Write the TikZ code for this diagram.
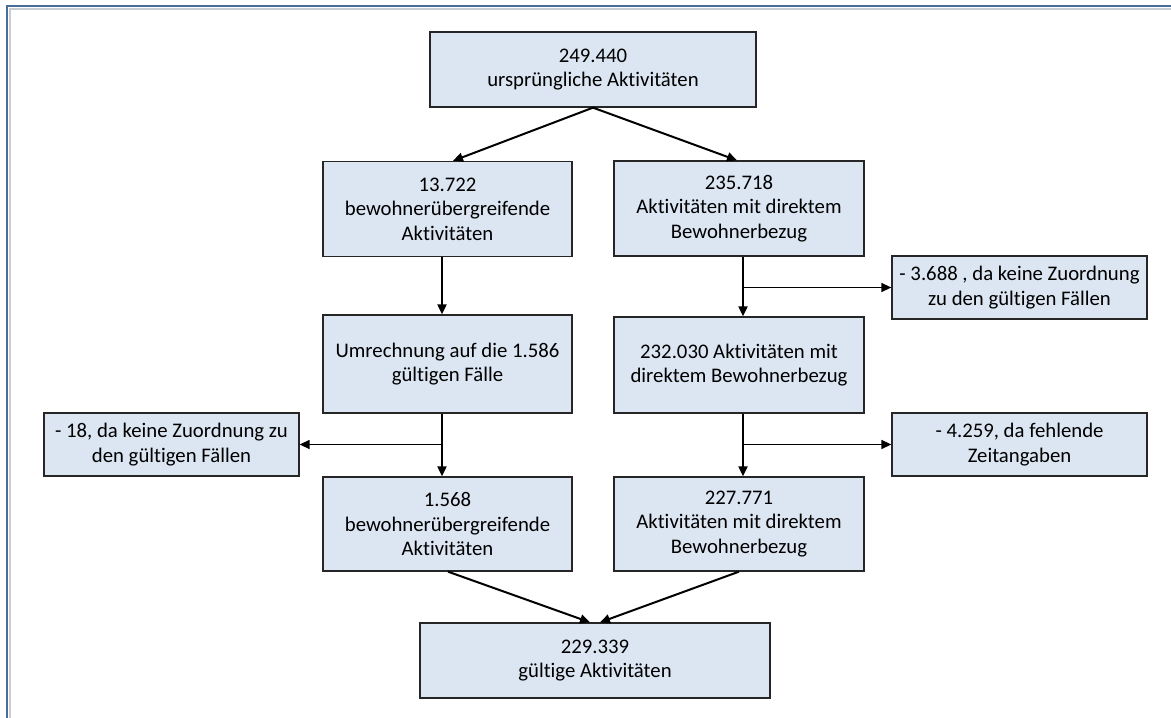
\documentclass[tikz,border=0pt]{standalone}
\usepackage{fontspec}
\setmainfont[Ligatures={NoCommon},RawFeature={-liga;-calt;-clig}]{Carlito}
\usetikzlibrary{arrows.meta,calc}
\definecolor{boxfill}{RGB}{220,230,242}
\definecolor{framecol}{RGB}{74,108,155}
\definecolor{shadowcol}{RGB}{200,205,212}
\begin{document}
\begin{tikzpicture}[x=1pt,y=-1pt,
  box/.style={draw=black!85, line width=1.3pt, fill=boxfill, align=center,
    inner sep=0pt, font=\fontsize{20.75}{24.5}\selectfont},
  flow/.style={line width=2pt, -{Triangle[length=10pt,width=9pt]}},
  branch/.style={line width=1.4pt, -{Triangle[length=10pt,width=9pt]}}]
\useasboundingbox (0,0) rectangle (1171,718);
% frame
\draw[shadowcol, line width=1.5pt] (1171,9) -- (10,9) -- (10,718);
\draw[framecol, line width=2pt] (1171,6) -- (7,6) -- (7,718);
% boxes
\node[box, minimum width=326pt, minimum height=75pt] (top) at (593,69.5) {249.440\\ursprüngliche Aktivitäten};
\node[box, minimum width=249pt, minimum height=95pt] (l2) at (447.5,209) {13.722\\bewohnerübergreifende\\Aktivitäten};
\node[box, minimum width=250pt, minimum height=95pt] (r2) at (739,208.5) {235.718\\Aktivitäten mit direktem\\Bewohnerbezug};
\node[box, minimum width=255pt, minimum height=63pt] (s1) at (1019.5,287.5) {- 3.688 , da keine Zuordnung\\zu den gültigen Fällen};
\node[box, minimum width=249pt, minimum height=98pt] (l3) at (447.5,364) {Umrechnung auf die 1.586\\gültigen Fälle};
\node[box, minimum width=250pt, minimum height=96pt] (r3) at (739,365) {232.030 Aktivitäten mit\\direktem Bewohnerbezug};
\node[box, minimum width=255pt, minimum height=63pt] (sL) at (171.5,444.5) {- 18, da keine Zuordnung zu\\den gültigen Fällen};
\node[box, minimum width=255pt, minimum height=63pt] (s2) at (1019.5,444.5) {- 4.259, da fehlende\\Zeitangaben};
\node[box, minimum width=249pt, minimum height=94pt] (l4) at (447.5,524) {1.568\\bewohnerübergreifende\\Aktivitäten};
\node[box, minimum width=250pt, minimum height=94pt] (r4) at (739,524) {227.771\\Aktivitäten mit direktem\\Bewohnerbezug};
\node[box, minimum width=350pt, minimum height=75pt] (bot) at (595,660.5) {229.339\\gültige Aktivitäten};
% anchor points on the vertical connectors
\coordinate (r2s) at ($(r2.south)+(4,0)$);
\coordinate (r3n) at ($(r3.north)+(4,0)$);
\coordinate (r3s) at ($(r3.south)+(4,0)$);
\coordinate (r4n) at ($(r4.north)+(4,0)$);
\coordinate (l2s) at ($(l2.south)+(-5.5,0)$);
\coordinate (l3n) at ($(l3.north)+(-5.5,0)$);
\coordinate (l3s) at ($(l3.south)+(-5.5,0)$);
\coordinate (l4n) at ($(l4.north)+(-5.5,0)$);
\coordinate (b1) at (r2s |- s1.west);
\coordinate (b2) at (l3s |- sL.east);
\coordinate (b3) at (r3s |- s2.west);
% connectors
\draw[flow] (top.south) -- ($(l2.north)+(5.5,0)$);
\draw[flow] (top.south) -- ($(r2.north)+(-2,0)$);
\draw[flow] (l2s) -- (l3n);
\draw[flow] (r2s) -- (r3n);
\draw[branch] (b1) -- (s1.west);
\draw[flow] (l3s) -- (l4n);
\draw[branch] (b2) -- (sL.east);
\draw[flow] (r3s) -- (r4n);
\draw[branch] (b3) -- (s2.west);
\draw[flow] ($(l4.south)+(0.5,0)$) -- ($(bot.north)+(-5,0)$);
\draw[flow] (r4.south) -- ($(bot.north)+(5,0)$);
\end{tikzpicture}
\end{document}
